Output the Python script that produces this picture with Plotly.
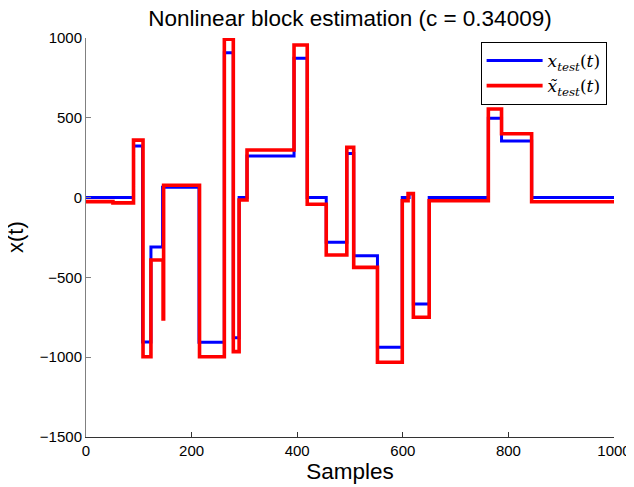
import plotly.graph_objects as go

# Step series given as (change-point sample, value held from that sample on)
samples_true = [0, 90, 107, 123, 145, 214, 262, 279, 290, 305, 394, 419, 455, 494,
                507, 552, 599, 612, 620, 650, 762, 787, 844, 1000]
values_true = [0, 323, -905, -310, 65, -907, 908, -878, 0, 260, 873, 0, -280, 277,
               -364, -938, 0, 25, -667, 0, 497, 355, 0, 0]

samples_est = [0, 51, 90, 108, 123, 146, 147, 215, 262, 279, 290, 305, 394, 419, 455,
               494, 507, 552, 599, 610, 620, 650, 762, 787, 844, 1000]
values_est = [-25, -33, 360, -997, -391, -760, 77, -997, 992, -965, -15, 298, 956, -42,
              -360, 315, -437, -1032, -20, 25, -750, -20, 555, 400, -26, -26]

x_ticks = [0, 200, 400, 600, 800, 1000]
y_ticks = [-1500, -1000, -500, 0, 500, 1000]

title_text = "Nonlinear block estimation (c = 0.34009)"
name_true = "<i>x</i><sub><i>test</i></sub>(<i>t</i>)"
name_est = "<i>x\u0303</i><sub><i>test</i></sub>(<i>t</i>)"

fig = go.Figure()
fig.add_trace(go.Scatter(x=samples_true, y=values_true, mode="lines", line_shape="hv",
                         line=dict(color="#0000ff", width=3), name=name_true))
fig.add_trace(go.Scatter(x=samples_est, y=values_est, mode="lines", line_shape="hv",
                         line=dict(color="#ff0000", width=3.6), name=name_est))

# the page body adds an 8px offset, so the figure is sized to fit the window
fig.update_layout(
    width=626, height=479,
    margin=dict(l=78, r=20, t=30, b=50, autoexpand=False),
    paper_bgcolor="white", plot_bgcolor="white",
    font=dict(family="Liberation Sans, Arial, sans-serif", color="black", size=15),
    title=dict(text=title_text, x=0.5, xref="paper", xanchor="center",
               y=1 - 10 / 479, yref="container", yanchor="middle",
               font=dict(size=22.5, color="black"), automargin=False),
    showlegend=True,
    legend=dict(x=0.986, y=0.99, xanchor="right", yanchor="top",
                bgcolor="white", bordercolor="black", borderwidth=1,
                itemwidth=56,
                font=dict(family="DejaVu Serif, Liberation Serif, serif", size=17, color="black"),
                tracegroupgap=0),
    annotations=[dict(text="x(t)", textangle=-90, xref="paper", yref="paper",
                      x=-70.5 / 528, y=0.5, xanchor="center", yanchor="middle",
                      showarrow=False, font=dict(size=22, color="black"))],
)
fig.update_xaxes(range=[0, 1000], tickvals=x_ticks, showgrid=False, zeroline=False,
                 showline=True, linecolor="#333333", linewidth=1, automargin=False,
                 ticks="inside", ticklen=5, tickcolor="#333333",
                 title=dict(text="Samples", font=dict(size=22.5), standoff=1))
fig.update_yaxes(range=[-1500, 1000], tickvals=y_ticks, showgrid=False, zeroline=False,
                 showline=True, linecolor="#808080", linewidth=1, automargin=False,
                 ticks="inside", ticklen=5, tickcolor="#808080")

fig.write_html("out.html")
